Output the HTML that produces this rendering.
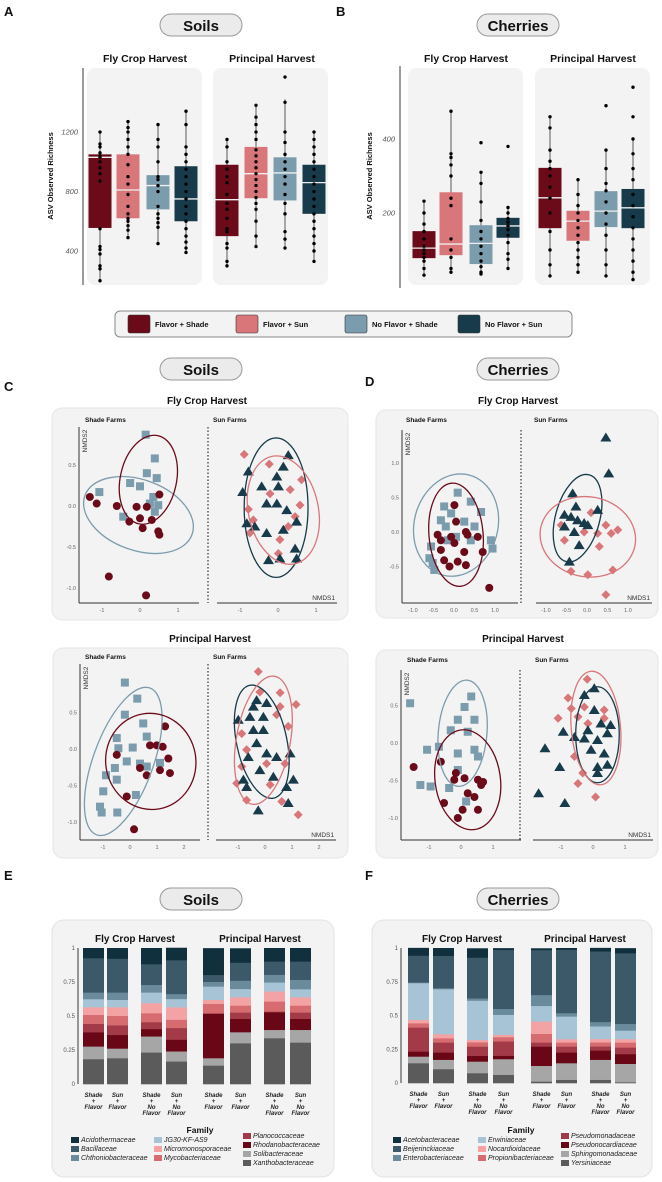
<!DOCTYPE html>
<html><head><meta charset="utf-8"><style>
html,body{margin:0;padding:0;background:#fff;}
svg{display:block;font-family:"Liberation Sans",Arial,sans-serif;}
.t{font-weight:bold;fill:#111;}
.tk{font-size:6.5px;fill:#555;font-style:italic;}
.lg{font-size:7px;font-style:italic;fill:#222;}
</style></head><body>
<svg id="fig" width="662" height="1182" viewBox="0 0 662 1182">
<!-- panel letters -->
<text x="4" y="16" class="t" font-size="13">A</text>
<text x="336" y="16" class="t" font-size="13">B</text>
<text x="4" y="391" class="t" font-size="13">C</text>
<text x="365" y="386" class="t" font-size="13">D</text>
<text x="4" y="880" class="t" font-size="13">E</text>
<text x="365" y="880" class="t" font-size="13">F</text>
<!-- pills -->
<g><rect x="160" y="14" width="82" height="22" rx="11" fill="#ebebeb" stroke="#999"/><text x="201" y="31" text-anchor="middle" class="t" font-size="15">Soils</text></g>
<g><rect x="477" y="14" width="82" height="22" rx="11" fill="#ebebeb" stroke="#999"/><text x="518" y="31" text-anchor="middle" class="t" font-size="15">Cherries</text></g>
<g><rect x="160" y="358" width="82" height="22" rx="11" fill="#ebebeb" stroke="#999"/><text x="201" y="375" text-anchor="middle" class="t" font-size="15">Soils</text></g>
<g><rect x="477" y="358" width="82" height="22" rx="11" fill="#ebebeb" stroke="#999"/><text x="518" y="375" text-anchor="middle" class="t" font-size="15">Cherries</text></g>
<g><rect x="160" y="888" width="82" height="22" rx="11" fill="#ebebeb" stroke="#999"/><text x="201" y="905" text-anchor="middle" class="t" font-size="15">Soils</text></g>
<g><rect x="477" y="888" width="82" height="22" rx="11" fill="#ebebeb" stroke="#999"/><text x="518" y="905" text-anchor="middle" class="t" font-size="15">Cherries</text></g>

<!-- A / B facet backgrounds -->
<rect x="87" y="68" width="115" height="217" rx="8" fill="#f3f3f3"/>
<rect x="213" y="68" width="115" height="217" rx="8" fill="#f3f3f3"/>
<rect x="408" y="68" width="115" height="217" rx="8" fill="#f3f3f3"/>
<rect x="535" y="68" width="115" height="217" rx="8" fill="#f3f3f3"/>
<text x="145" y="62" text-anchor="middle" class="t" font-size="10.5">Fly Crop Harvest</text>
<text x="272" y="62" text-anchor="middle" class="t" font-size="10.5">Principal Harvest</text>
<text x="466" y="62" text-anchor="middle" class="t" font-size="10.5">Fly Crop Harvest</text>
<text x="593" y="62" text-anchor="middle" class="t" font-size="10.5">Principal Harvest</text>
<line x1="83" y1="68" x2="83" y2="285" stroke="#666" stroke-width="1.3"/>
<line x1="400" y1="66" x2="400" y2="288" stroke="#666" stroke-width="1.3"/>
<text transform="translate(53,176) rotate(-90)" text-anchor="middle" class="t" font-size="7.5">ASV Observed Richness</text>
<text transform="translate(372,176) rotate(-90)" text-anchor="middle" class="t" font-size="7.5">ASV Observed Richness</text>

<!-- legend -->
<g>
<rect x="115" y="311" width="457" height="26" rx="5" fill="#f3f3f3" stroke="#888"/>
<g><rect x="128" y="315" width="22" height="18" rx="2" fill="#6b0b1a" stroke="#333" stroke-width="0.6"/><text x="155" y="327" class="t" font-size="7.5">Flavor + Shade</text></g>
<g><rect x="236" y="315" width="22" height="18" rx="2" fill="#d9767a" stroke="#333" stroke-width="0.6"/><text x="263" y="327" class="t" font-size="7.5">Flavor + Sun</text></g>
<g><rect x="345" y="315" width="22" height="18" rx="2" fill="#7b9cad" stroke="#333" stroke-width="0.6"/><text x="372" y="327" class="t" font-size="7.5">No Flavor + Shade</text></g>
<g><rect x="458" y="315" width="22" height="18" rx="2" fill="#173b4a" stroke="#333" stroke-width="0.6"/><text x="485" y="327" class="t" font-size="7.5">No Flavor + Sun</text></g>
</g>

<!-- C / D panels -->
<text x="207" y="404" text-anchor="middle" class="t" font-size="10">Fly Crop Harvest</text>
<text x="210" y="642" text-anchor="middle" class="t" font-size="10">Principal Harvest</text>
<text x="518" y="404" text-anchor="middle" class="t" font-size="10">Fly Crop Harvest</text>
<text x="523" y="642" text-anchor="middle" class="t" font-size="10">Principal Harvest</text>
<rect x="52" y="408" width="296" height="212" rx="10" fill="#f3f3f3" stroke="#e6e6e6"/>
<rect x="53" y="648" width="295" height="210" rx="10" fill="#f3f3f3" stroke="#e6e6e6"/>
<rect x="376" y="410" width="282" height="208" rx="10" fill="#f3f3f3" stroke="#e6e6e6"/>
<rect x="376" y="650" width="282" height="208" rx="10" fill="#f3f3f3" stroke="#e6e6e6"/>
<g class="t" font-size="6.5">
<text x="85" y="422">Shade Farms</text><text x="213" y="422">Sun Farms</text>
<text x="85" y="659">Shade Farms</text><text x="213" y="659">Sun Farms</text>
<text x="406" y="422">Shade Farms</text><text x="534" y="422">Sun Farms</text>
<text x="407" y="662">Shade Farms</text><text x="535" y="662">Sun Farms</text>
</g>
<g id="scatters"></g>

<!-- E / F -->
<rect x="52" y="920" width="282" height="257" rx="12" fill="#f3f3f3" stroke="#e3e3e3"/>
<rect x="372" y="920" width="280" height="257" rx="12" fill="#f3f3f3" stroke="#e3e3e3"/>
<text x="135" y="942" text-anchor="middle" class="t" font-size="10">Fly Crop Harvest</text>
<text x="260" y="942" text-anchor="middle" class="t" font-size="10">Principal Harvest</text>
<text x="462" y="942" text-anchor="middle" class="t" font-size="10">Fly Crop Harvest</text>
<text x="585" y="942" text-anchor="middle" class="t" font-size="10">Principal Harvest</text>
<text x="200" y="1133" text-anchor="middle" class="t" font-size="8.5">Family</text>
<text x="521" y="1133" text-anchor="middle" class="t" font-size="8.5">Family</text>
<g id="stacks"></g>
</svg>
<script>
// ===== Box plot data (A: soils, B: cherries) =====
const boxGroups = ['Flavor + Shade','Flavor + Sun','No Flavor + Shade','No Flavor + Sun'];
const aTicks = [400, 800, 1200];
const aFlyQ1 = [555, 620, 680, 600];
const aFlyMed = [1030, 810, 840, 750];
const aFlyQ3 = [1050, 1050, 910, 970];
const aFlyLo = [200, 490, 450, 390];
const aFlyHi = [1200, 1270, 1250, 1340];
const aPriQ1 = [500, 755, 740, 650];
const aPriMed = [745, 920, 925, 860];
const aPriQ3 = [980, 1100, 1030, 980];
const aPriLo = [300, 430, 420, 330];
const aPriHi = [1150, 1380, 1420, 1200];
const aFlyDots = [
 [200,280,300,380,410,430,550,870,920,960,1000,1030,1040,1060,1100,1120,1200],
 [490,540,570,600,620,650,700,780,850,900,980,1050,1100,1150,1200,1230,1270],
 [450,560,590,620,650,700,800,840,880,900,1000,1100,1150,1250],
 [390,420,460,500,550,600,650,700,750,800,850,900,950,1000,1050,1100,1250,1340]];
const aPriDots = [
 [300,330,420,450,530,550,620,680,720,780,860,900,950,1000,1100,1150],
 [430,500,600,680,720,760,800,840,880,920,960,1000,1040,1080,1150,1200,1250,1300,1380],
 [420,480,530,650,720,780,850,900,950,1000,1050,1130,1200,1400,1570],
 [330,400,450,500,550,600,650,700,750,800,850,900,950,1000,1050,1100,1150,1200]];
const bTicks = [200, 400];
const bFlyQ1 = [78, 86, 62, 133];
const bFlyMed = [105, 116, 118, 165];
const bFlyQ3 = [151, 256, 167, 187];
const bFlyLo = [32, 40, 35, 50];
const bFlyHi = [232, 475, 310, 215];
const bPriQ1 = [159, 125, 162, 159];
const bPriMed = [241, 178, 205, 214];
const bPriQ3 = [322, 206, 259, 265];
const bPriLo = [30, 40, 30, 20];
const bPriHi = [460, 290, 370, 400];
const bFlyDots = [
 [32,50,70,80,90,100,110,130,150,170,200,232],
 [40,50,80,100,130,220,240,300,330,350,360,475],
 [35,40,55,70,90,110,130,150,180,230,280,310,390],
 [50,75,90,120,140,155,165,175,185,200,215,380]];
const bPriDots = [
 [30,60,100,150,200,240,270,300,320,340,370,430,460],
 [40,60,80,100,120,140,160,180,200,220,250,290],
 [30,60,100,140,170,200,230,260,280,320,370,490],
 [20,40,70,100,130,160,190,220,250,290,320,360,400,460,540]];

// ===== NMDS data (C soils, D cherries) =====
const cFlyShadeCircX=[-1.32,-1.14,-0.61,-0.09,0.18,0.51,-0.28,0,0.07,0.48,0.51,0.31,-0.82,0.16];
const cFlyShadeCircY=[0.11,0.03,0,-0.01,-0.01,0.14,-0.19,-0.15,-0.27,-0.31,-0.35,-0.17,-0.86,-1.09];
const cFlyShadeSqX=[0.15,0.39,0.18,0.44,-0.26,0,-1.07,0.35,0.48,0.39,-0.44,0.26];
const cFlyShadeSqY=[0.87,0.58,0.4,0.34,0.28,0.24,0.17,0.11,0.01,-0.07,-0.13,0.03];
const cFlySunTriX=[-0.78,-0.93,-0.43,0.27,0.14,0.01,-0.3,-0.03,0.23,-0.82,-0.3,0.14,-0.25,0.05,0.49,0.45,0.49,-0.61,-0.03];
const cFlySunTriY=[0.42,0.17,0.24,0.62,0.48,0.24,0.03,0.03,-0.05,-0.21,-0.33,-0.29,-0.66,-0.64,-0.64,-0.52,-0.19,-0.25,0.36];
const cFlySunDiaX=[-0.89,-0.23,0.62,-0.78,-0.65,-0.21,0.32,0.58,0.45,0.05,0.01,-0.74,0.27];
const cFlySunDiaY=[0.63,0.51,0.32,-0.04,-0.17,0.15,0.2,0.01,-0.13,-0.41,-0.58,-0.33,-0.25];
const cPriShadeSqX=[-0.19,0.27,-0.19,0.49,-0.49,-0.43,0.1,0.62,-0.12,-0.56,0.62,1.11,-0.89,-0.49,-0.99,0.22,-1.11,-1.05,-0.47,0.37];
const cPriShadeSqY=[0.91,0.69,0.47,0.35,0.15,0.01,0.02,0.17,-0.17,-0.26,-0.24,-0.19,-0.36,-0.42,-0.58,-0.63,-0.79,-0.87,-0.87,-0.2];
const cPriShadeCircX=[1.3,0.74,1.21,1.42,-0.49,0.37,0.62,1.11,1.48,-0.12,0.15,0.99];
const cPriShadeCircY=[0.31,0.05,0.03,-0.13,-0.08,-0.26,-0.36,-0.29,-0.33,-0.65,-1.1,0.05];
const cPriSunTriX=[-0.99,-0.31,0.06,-0.56,-0.43,-0.06,-0.31,-0.62,0.06,0.43,-0.19,-0.8,0.31,0.8,1.05,0.86,-0.25,-0.68,0.93,-0.06,-0.43];
const cPriSunTriY=[0.4,0.67,0.63,0.44,0.26,0.26,0.08,-0.11,-0.06,-0.11,-0.29,-0.42,-0.38,-0.52,-0.42,-0.74,-0.84,-0.52,-0.06,0.44,0.58];
const cPriSunDiaX=[-0.25,0.56,1.15,0.56,-0.86,-0.68,-0.86,0.06,0.74,0.86,-1.05,-0.68,0.62,1.23,0.19,0.43,-0.19];
const cPriSunDiaY=[1.06,0.77,0.61,0.58,0.21,-0.01,-0.24,-0.2,-0.2,0.31,-0.47,-0.7,-0.72,-0.9,-0.49,0.47,0.78];
const dFlyShadeSqX=[0.09,0.41,0.66,-0.24,-0.32,-0.07,0.25,0.5,-0.56,-0.6,-0.48,-0.15,0.9,0.94,0.41,-0.2,0.05,-0.52];
const dFlyShadeSqY=[0.57,0.44,0.29,0.37,0.17,0.27,0.15,0.08,-0.21,-0.38,-0.55,-0.12,-0.12,-0.24,-0.12,0.08,-0.07,-0.45];
const dFlyShadeCircX=[0.01,0.05,-0.32,-0.07,0.29,-0.32,0.01,0.25,0.58,0.7,-0.24,0.09,0.29,-0.11,0.86,-0.4,0.33];
const dFlyShadeCircY=[0.39,0.15,-0.12,-0.07,0,-0.26,-0.16,-0.29,-0.07,-0.29,-0.41,-0.43,-0.48,-0.5,-0.81,-0.04,-0.04];
const dFlySunTriX=[0.46,0.53,-0.35,0.26,-0.55,-0.39,-0.23,-0.07,-0.31,0.02,-0.19,-0.43,-0.55,-0.27];
const dFlySunTriY=[1.37,0.85,0.56,0.32,0.25,0.22,0.17,0.13,0,0.1,-0.19,-0.43,0.08,0.37];
const dFlySunDiaX=[-0.63,-0.55,0.1,0.46,0.59,0.75,0.3,-0.39,0.02,0.63,0.46,-0.07,0.26];
const dFlySunDiaY=[0.1,-0.12,0.28,0.1,-0.02,0.03,-0.21,-0.57,-0.62,-0.55,-0.91,0,-0.02];
const dPriShadeSqX=[-1.59,0.32,0.11,-0.1,0.42,0.21,-0.32,-1.06,-0.69,-0.1,0.42,-1.27,-0.95,-0.37,0.16,0.53,-0.1];
const dPriShadeSqY=[0.53,0.62,0.48,0.31,0.31,0.15,0.17,-0.09,-0.05,-0.14,-0.09,-0.56,-0.58,-0.6,-0.78,-0.18,-0.36];
const dPriShadeCircX=[-1.48,-0.63,-0.16,0.11,0.53,0.63,0.21,0.42,-0.53,0.05,0.53,-0.1,0.69,-0.21];
const dPriShadeCircY=[-0.32,-0.25,-0.4,-0.47,-0.49,-0.56,-0.67,-0.72,-0.8,-0.89,-0.89,-1.0,-0.52,-0.49];
const dPriSunTriX=[0.04,-0.27,-0.93,-0.58,-1.5,-1.04,-1.7,-0.88,0.04,0.25,0.45,-0.16,0.14,-0.06,0.35,0.14,0.45,0.14,-0.27,0.55];
const dPriSunTriY=[0.73,0.64,0.15,0.08,-0.07,-0.32,-0.67,-0.8,0.44,0.26,0.13,0.17,0.04,-0.09,-0.14,-0.32,-0.29,-0.4,0.06,0.24];
const dPriSunDiaX=[-0.18,-0.78,-1.09,-0.68,-0.47,-0.27,0.35,-0.58,-0.32,-0.47,0.08,0.35,-0.16];
const dPriSunDiaY=[0.85,0.6,0.33,0.46,0.35,0.48,0.44,-0.18,-0.4,-0.54,-0.72,0.33,0.26];
// ellipses: [cx, cy, rx, ry (data units), angle deg]
const cFlyEllipses=[[-0.04,-0.11,1.5,0.43,20],[0.22,0.32,0.74,0.55,12],[-0.05,-0.02,0.84,0.85,0],[0.14,-0.05,0.92,0.67,-12]];
const cPriEllipses=[[-0.25,-0.17,1.11,1.07,20],[0.77,-0.17,1.67,0.66,-10],[-0.12,0.1,0.93,0.79,-12],[-0.06,0.12,1.0,0.89,10]];
const dFlyEllipses=[[0.05,0.1,1.02,0.75,15],[0.05,-0.04,0.66,0.75,-5],[-0.23,0.2,0.54,0.65,15],[0.02,-0.07,1.17,0.58,10]];
const dPriEllipses=[[0.05,0.13,0.76,0.71,5],[0.21,-0.49,1.02,0.67,-8],[0.14,0.11,0.68,0.64,0],[0.09,0.2,0.77,0.76,-5]];
const cFlyYTicks=[0.5,0,-0.5,-1.0]; const cFlyXTicks=[-1,0,1];
const cPriYTicks=[0.5,0,-0.5,-1.0]; const cPriXTicks=[-1,0,1,2];
const dFlyYTicks=[1.0,0.5,0,-0.5]; const dFlyXTicks=[-1.0,-0.5,0,0.5,1.0];
const dPriYTicks=[0.5,0,-0.5,-1.0]; const dPriXTicks=[-1,0,1];

// ===== Stacked bar data (E soils, F cherries), bottom -> top =====
const soilFamilies=['Xanthobacteraceae','Solibacteraceae','Rhodanobacteraceae','Planococcaceae','Mycobacteriaceae','Micromonosporaceae','JG30-KF-AS9','Chthoniobacteraceae','Bacillaceae','Acidothermaceae'];
const soilBars=[
 [0.184,0.093,0.105,0.062,0.066,0.056,0.059,0.049,0.252,0.074],
 [0.191,0.071,0.100,0.071,0.069,0.064,0.054,0.054,0.248,0.078],
 [0.233,0.118,0.054,0.051,0.066,0.074,0.078,0.056,0.152,0.118],
 [0.167,0.074,0.086,0.086,0.061,0.091,0.061,0.037,0.248,0.091],
 [0.137,0.054,0.326,0.005,0.069,0.029,0.098,0.034,0.051,0.196],
 [0.301,0.081,0.098,0.047,0.051,0.061,0.061,0.061,0.132,0.105],
 [0.338,0.061,0.130,0.005,0.074,0.074,0.066,0.056,0.098,0.098],
 [0.306,0.093,0.081,0.047,0.051,0.061,0.059,0.069,0.135,0.098]];
const cherryFamilies=['Yersiniaceae','Sphingomonadaceae','Pseudonocardiaceae','Pseudomonadaceae','Propionibacteriaceae','Nocardioidaceae','Erwiniaceae','Enterobacteriaceae','Beijerinckiaceae','Acetobacteraceae'];
const cherryBars=[
 [0.148,0.049,0.037,0.178,0.032,0.025,0.272,0.005,0.198,0.057],
 [0.104,0.069,0.054,0.074,0.032,0.030,0.333,0.007,0.240,0.057],
 [0.074,0.086,0.042,0.069,0.032,0.017,0.291,0.017,0.301,0.069],
 [0.062,0.116,0.025,0.106,0.032,0.017,0.148,0.044,0.437,0.012],
 [0.012,0.116,0.143,0.030,0.064,0.091,0.116,0.081,0.333,0.012],
 [0.025,0.123,0.079,0.044,0.030,0.025,0.168,0.025,0.469,0.012],
 [0.025,0.148,0.069,0.030,0.030,0.025,0.094,0.032,0.523,0.025],
 [0.007,0.136,0.072,0.049,0.037,0.025,0.064,0.049,0.523,0.037]];
const barLabels=[['Shade','+','Flavor'],['Sun','+','Flavor'],['Shade','+','No','Flavor'],['Sun','+','No','Flavor'],['Shade','+','Flavor'],['Sun','+','Flavor'],['Shade','+','No','Flavor'],['Sun','+','No','Flavor']];
const stackTicks=[0,0.25,0.5,0.75,1];
const stackTickLabels=['0','0.25','0.5','0.75','1'];

// ===== rendering =====
const NS='http://www.w3.org/2000/svg';
const svg=document.getElementById('fig');
function mk(tag,attrs,parent){const e=document.createElementNS(NS,tag);for(const k in attrs)e.setAttribute(k,attrs[k]);(parent||svg).appendChild(e);return e;}
const boxColors=['#6b0b1a','#d9767a','#7b9cad','#173b4a'];

function drawBoxFacet(yScale,centers,q1,med,q3,lo,hi,dots,prefix){
  for(let i=0;i<centers.length;i++){
    const g=mk('g',{});
    
    
    const cx=centers[i];
    const w=mk('line',{x1:cx,x2:cx,y1:yScale(lo[i]),y2:yScale(hi[i]),stroke:'#333','stroke-width':0.8},g);
    
    
    const r=mk('rect',{x:cx-11.5,y:yScale(q3[i]),width:23,height:yScale(q1[i])-yScale(q3[i]),fill:boxColors[i]},g);
    
    
    const m=mk('line',{x1:cx-11.5,x2:cx+11.5,y1:yScale(med[i]),y2:yScale(med[i]),stroke:'#eee','stroke-width':1.3},g);
    
    
    dots[i].forEach(v=>{
      const d=mk('circle',{cx:cx,cy:yScale(v),r:1.7,fill:'#000'},g);
      
      
    });
  }
}
function drawYTicks(ticks,yScale,x,prefix){
  ticks.forEach(t=>{
    const tx=mk('text',{x:x,y:yScale(t)+2.5,'text-anchor':'end','font-size':7.5,fill:'#555','font-style':'italic'});
    tx.textContent=t;
    
    
  });
}
const aY=v=>251-(v-400)*0.1487;
const bY=v=>287-v*0.37;
drawYTicks(aTicks,aY,78,'a');
drawYTicks(bTicks,bY,395,'b');
drawBoxFacet(aY,[100,128,158,186],aFlyQ1,aFlyMed,aFlyQ3,aFlyLo,aFlyHi,aFlyDots,'a-fly');
drawBoxFacet(aY,[227,256,285,314],aPriQ1,aPriMed,aPriQ3,aPriLo,aPriHi,aPriDots,'a-principal');
drawBoxFacet(bY,[424,451,481,508],bFlyQ1,bFlyMed,bFlyQ3,bFlyLo,bFlyHi,bFlyDots,'b-fly');
drawBoxFacet(bY,[550,578,606,633],bPriQ1,bPriMed,bPriQ3,bPriLo,bPriHi,bPriDots,'b-principal');

// scatter
const scat=document.getElementById('scatters');
const cRed='#6b0b1a',cPink='#d9767a',cBlue='#7b9cad',cDark='#173b4a';
function marker(shape,x,y,color,parent){
  let e;
  if(shape==='circle') e=mk('circle',{cx:x,cy:y,r:4,fill:color},parent);
  else if(shape==='square') e=mk('rect',{x:x-4,y:y-4,width:8,height:8,fill:color},parent);
  else if(shape==='tri') e=mk('path',{d:`M${x},${y-5}L${x+5.5},${y+4}L${x-5.5},${y+4}Z`,fill:color},parent);
  else e=mk('path',{d:`M${x},${y-4.5}L${x+4.5},${y}L${x},${y+4.5}L${x-4.5},${y}Z`,fill:color},parent);
  return e;
}
function drawNMDS(cfg){
  const g=mk('g',{},scat);
  
  
  const L=v=>cfg.ox+cfg.sx*v, R=v=>cfg.ox2+cfg.sx*v, Y=v=>cfg.oy-cfg.sy*v;
  // axes
  const ya=mk('line',{x1:cfg.ax,x2:cfg.ax,y1:cfg.top,y2:cfg.bot,stroke:'#333','stroke-width':1},g);
  
  
  const xa=mk('line',{x1:cfg.ax,x2:cfg.ax+cfg.w,y1:cfg.bot,y2:cfg.bot,stroke:'#333','stroke-width':1},g);
  
  
  const xb=mk('line',{x1:cfg.ax2,x2:cfg.ax2+cfg.w,y1:cfg.bot,y2:cfg.bot,stroke:'#333','stroke-width':1},g);
  
  
  const dv=mk('line',{x1:cfg.div,x2:cfg.div,y1:cfg.top,y2:cfg.bot,stroke:'#333','stroke-width':1.2,'stroke-dasharray':'1.5,2'},g);
  
  
  const n2=mk('text',{transform:`translate(${cfg.ax+8},${cfg.top+14}) rotate(-90)`,'text-anchor':'middle','font-size':6.5,fill:'#333'},g);
  n2.textContent='NMDS2';
  
  
  const n1=mk('text',{x:cfg.ax2+cfg.w-2,y:cfg.bot-3,'text-anchor':'end','font-size':6.5,fill:'#333'},g);
  n1.textContent='NMDS1';
  
  
  cfg.yt.forEach(t=>{
    const tx=mk('text',{x:cfg.ax-3,y:Y(t)+2,'text-anchor':'end','font-size':5.5,fill:'#666'},g);
    tx.textContent=t.toFixed(1);
    
    
  });
  cfg.xt.forEach(t=>{
    const lbl=cfg.dec?t.toFixed(1):String(t);
    const a=mk('text',{x:L(t),y:cfg.bot+9,'text-anchor':'middle','font-size':5.5,fill:'#666'},g);
    a.textContent=lbl;
    
    
    const b=mk('text',{x:R(t),y:cfg.bot+9,'text-anchor':'middle','font-size':5.5,fill:'#666'},g);
    b.textContent=lbl;
    
    
  });
  cfg.series.forEach(s=>{
    const sc=s.side==='L'?L:R;
    s.xs.forEach((x,i)=>{
      const m=marker(s.shape,sc(x),Y(s.ys[i]),s.color,g);
      
      
    });
  });
  const eCols=[cBlue,cRed,cDark,cPink];
  const eNames=['noflavor-shade-ellipse','flavor-shade-ellipse','noflavor-sun-ellipse','flavor-sun-ellipse'];
  cfg.ell.forEach((e,i)=>{
    const sc=i<2?L:R;
    const cx=sc(e[0]),cy=Y(e[1]);
    const el=mk('ellipse',{cx:cx,cy:cy,rx:e[2]*cfg.sx,ry:e[3]*cfg.sy,fill:'none',stroke:eCols[i],'stroke-width':1.3,transform:`rotate(${e[4]},${cx},${cy})`},g);
    
    
  });
}
drawNMDS({name:'c-fly-nmds',ox:140,ox2:278,sx:38,oy:506,sy:82,ax:79,ax2:217,w:120,top:427,bot:603,div:208,yt:cFlyYTicks,xt:cFlyXTicks,dec:false,ell:cFlyEllipses,
 series:[{side:'L',shape:'square',color:cBlue,xs:cFlyShadeSqX,ys:cFlyShadeSqY,label:'noflavor-shade'},{side:'L',shape:'circle',color:cRed,xs:cFlyShadeCircX,ys:cFlyShadeCircY,label:'flavor-shade'},
 {side:'R',shape:'dia',color:cPink,xs:cFlySunDiaX,ys:cFlySunDiaY,label:'flavor-sun'},{side:'R',shape:'tri',color:cDark,xs:cFlySunTriX,ys:cFlySunTriY,label:'noflavor-sun'}]});
drawNMDS({name:'c-principal-nmds',ox:130,ox2:265,sx:27,oy:749,sy:73,ax:80,ax2:216,w:120,top:664,bot:840,div:208,yt:cPriYTicks,xt:cPriXTicks,dec:false,ell:cPriEllipses,
 series:[{side:'L',shape:'square',color:cBlue,xs:cPriShadeSqX,ys:cPriShadeSqY,label:'noflavor-shade'},{side:'L',shape:'circle',color:cRed,xs:cPriShadeCircX,ys:cPriShadeCircY,label:'flavor-shade'},
 {side:'R',shape:'dia',color:cPink,xs:cPriSunDiaX,ys:cPriSunDiaY,label:'flavor-sun'},{side:'R',shape:'tri',color:cDark,xs:cPriSunTriX,ys:cPriSunTriY,label:'noflavor-sun'}]});
drawNMDS({name:'d-fly-nmds',ox:454,ox2:587,sx:41,oy:532,sy:69,ax:402,ax2:536,w:116,top:430,bot:603,div:521,yt:dFlyYTicks,xt:dFlyXTicks,dec:true,ell:dFlyEllipses,
 series:[{side:'L',shape:'square',color:cBlue,xs:dFlyShadeSqX,ys:dFlyShadeSqY,label:'noflavor-shade'},{side:'L',shape:'circle',color:cRed,xs:dFlyShadeCircX,ys:dFlyShadeCircY,label:'flavor-shade'},
 {side:'R',shape:'dia',color:cPink,xs:dFlySunDiaX,ys:dFlySunDiaY,label:'flavor-sun'},{side:'R',shape:'tri',color:cDark,xs:dFlySunTriX,ys:dFlySunTriY,label:'noflavor-sun'}]});
drawNMDS({name:'d-principal-nmds',ox:461,ox2:593,sx:32,oy:743,sy:75,ax:401,ax2:533,w:120,top:670,bot:840,div:520,yt:dPriYTicks,xt:dPriXTicks,dec:false,ell:dPriEllipses,
 series:[{side:'L',shape:'square',color:cBlue,xs:dPriShadeSqX,ys:dPriShadeSqY,label:'noflavor-shade'},{side:'L',shape:'circle',color:cRed,xs:dPriShadeCircX,ys:dPriShadeCircY,label:'flavor-shade'},
 {side:'R',shape:'dia',color:cPink,xs:dPriSunDiaX,ys:dPriSunDiaY,label:'flavor-sun'},{side:'R',shape:'tri',color:cDark,xs:dPriSunTriX,ys:dPriSunTriY,label:'noflavor-sun'}]});

// stacked bars
const stk=document.getElementById('stacks');
const soilColors=['#5b5b5b','#a6a6a6','#6a0716','#a23a48','#d66c70','#f4a3a5','#a6c4d5','#6a8b9c','#3b5968','#11303d'];
const cherryColors=['#5b5b5b','#a6a6a6','#6a0716','#a23a48','#d66c70','#f4a3a5','#a6c4d5','#6a8b9c','#3b5968','#11303d'];
function drawStacks(name,bars,colors,xs,axisX,y0,y1,families,legCols){
  const g=mk('g',{},stk);
  
  
  const Y=v=>y0-(y0-y1)*v;
  const ax=mk('line',{x1:axisX,x2:axisX,y1:Y(1),y2:Y(0),stroke:'#777','stroke-width':1.5},g);
  
  
  stackTicks.forEach((t,i)=>{
    const tx=mk('text',{x:axisX-3,y:Y(t)+2,'text-anchor':'end','font-size':6,fill:'#555'},g);
    tx.textContent=stackTickLabels[i];
    
    
  });
  bars.forEach((vals,b)=>{
    let acc=0;
    vals.forEach((v,k)=>{
      const r=mk('rect',{x:xs[b],y:Y(acc+v),width:21,height:Y(acc)-Y(acc+v)+0.3,fill:colors[k]},g);
      
      
      acc+=v;
    });
    barLabels[b].forEach((ln,j)=>{
      const tx=mk('text',{x:xs[b]+10.5,y:y0+13+j*6,'text-anchor':'middle','font-size':6,'font-weight':'bold','font-style':'italic',fill:'#222'},g);
      tx.textContent=ln;
      
      
    });
  });
  // legend: order top->bottom as shown (reverse of stacking)
  const order=families.map((f,i)=>i).reverse();
  order.forEach((k,n)=>{
    const col=n<3?0:(n<6?1:2);
    const row=col===2?n-6:n-col*3;
    const lx=legCols[col], ly=(col===2?1138:1142)+row*9;
    const sw=mk('rect',{x:lx,y:ly-5,width:8,height:6,fill:colors[k]},g);
    
    
    const tx=mk('text',{x:lx+10,y:ly,'class':'lg'},g);
    tx.textContent=families[k];
    
    
  });
}
drawStacks('e-soil-stacked-bars',soilBars,soilColors,[83,107,141,166,203,230,264,290],78,1084,948,soilFamilies,[71,154,243]);
drawStacks('f-cherry-stacked-bars',cherryBars,cherryColors,[408,433,467,493,531,556,590,615],401,1083,948,cherryFamilies,[393,478,561]);
</script>
</body></html>
